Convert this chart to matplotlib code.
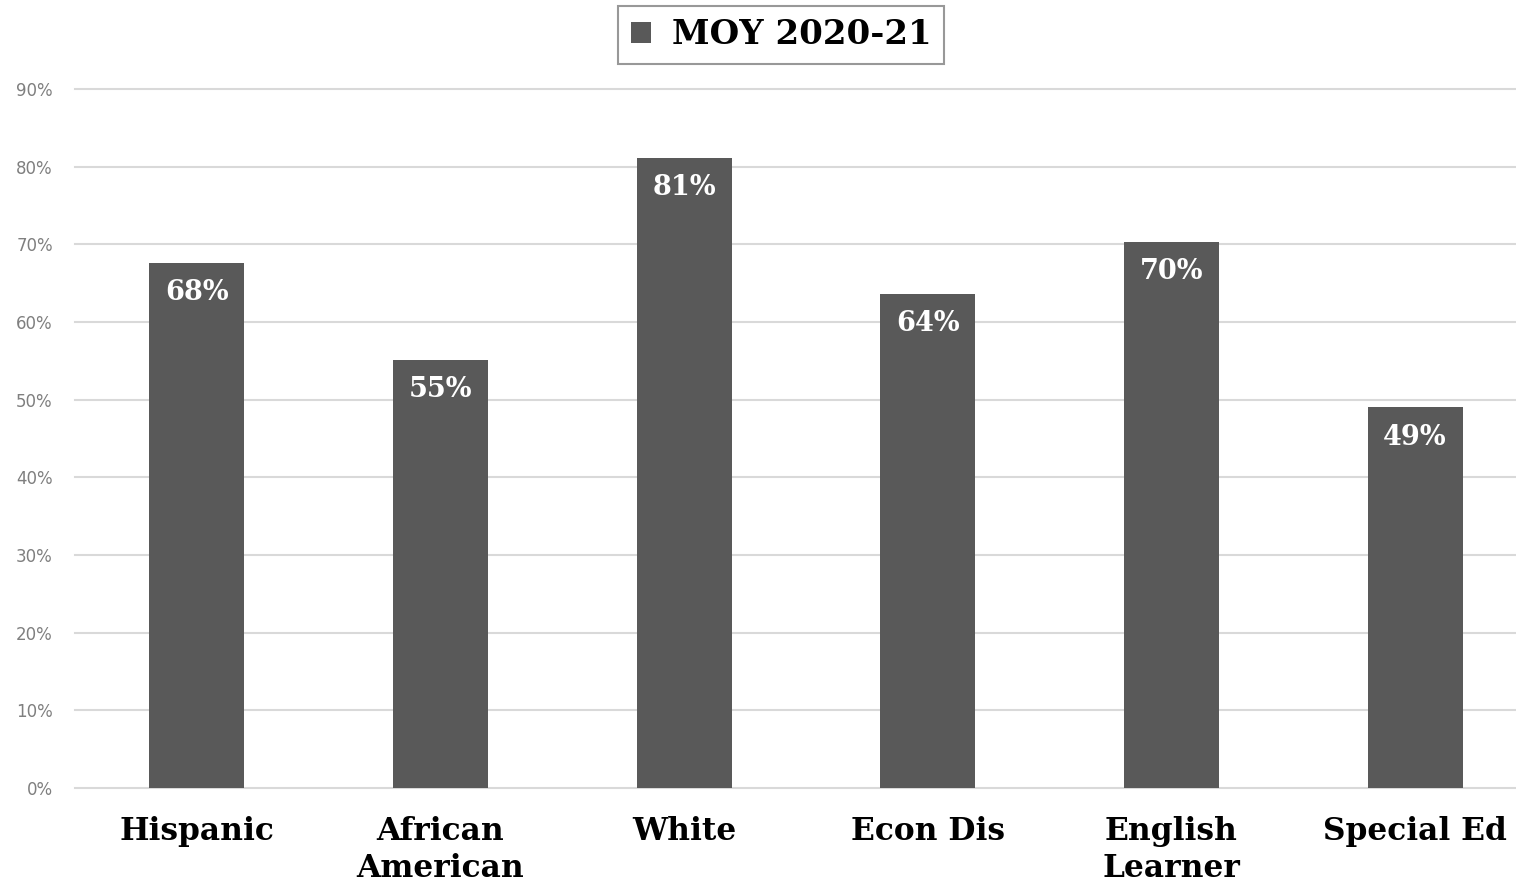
import matplotlib
matplotlib.use("Agg")
import matplotlib.pyplot as plt
from matplotlib.ticker import PercentFormatter

categories = ["Hispanic", "African\nAmerican", "White", "Econ Dis", "English\nLearner", "Special Ed"]
values = [0.676, 0.551, 0.811, 0.636, 0.703, 0.490]
labels = ["68%", "55%", "81%", "64%", "70%", "49%"]
series_name = "MOY 2020-21"

bar_color = "#595959"
serif = ["DejaVu Serif"]

fig = plt.figure(figsize=(15.16, 8.85), dpi=100)
W, H = 1516, 885
ax = fig.add_axes([75 / W, 1 - 788 / H, (1537 - 75) / W, (788 - 89) / H])

x = list(range(len(categories)))
bars = ax.bar(x, values, width=0.39, color=bar_color, label=series_name, zorder=3)
ax.set_xlim(-0.5, len(categories) - 0.5)
ax.set_ylim(0, 0.9)
ax.set_yticks([i / 10 for i in range(10)])
ax.yaxis.set_major_formatter(PercentFormatter(1.0, decimals=0))
ax.grid(axis="y", color="#d9d9d9", linewidth=1.5, zorder=0)
for gl in ax.yaxis.get_gridlines():
    gl.set_clip_on(False)
for s in ax.spines.values():
    s.set_visible(False)
ax.tick_params(axis="y", length=0, pad=16, labelsize=12, labelcolor="#7f7f7f")
ax.tick_params(axis="x", length=0, pad=20)
ax.set_xticks(x)
ax.set_xticklabels(categories, fontsize=22.5, fontweight="bold", family=serif,
                   linespacing=1.25, va="top")

for xi, v, lab in zip(x, values, labels):
    ax.text(xi, v - 0.021, lab, ha="center", va="top", color="white",
            fontsize=19.5, fontweight="bold", family=serif)

leg = fig.legend(loc="center", bbox_to_anchor=(781 / W, 1 - 35 / H),
                 prop={"family": serif, "weight": "bold", "size": 24.5},
                 frameon=True, fancybox=False, edgecolor="#7f7f7f",
                 handlelength=0.6, handleheight=0.6, handletextpad=0.6,
                 borderpad=0.38, borderaxespad=0)
leg.get_frame().set_linewidth(1.5)

fig.savefig("out.png", dpi=100)
